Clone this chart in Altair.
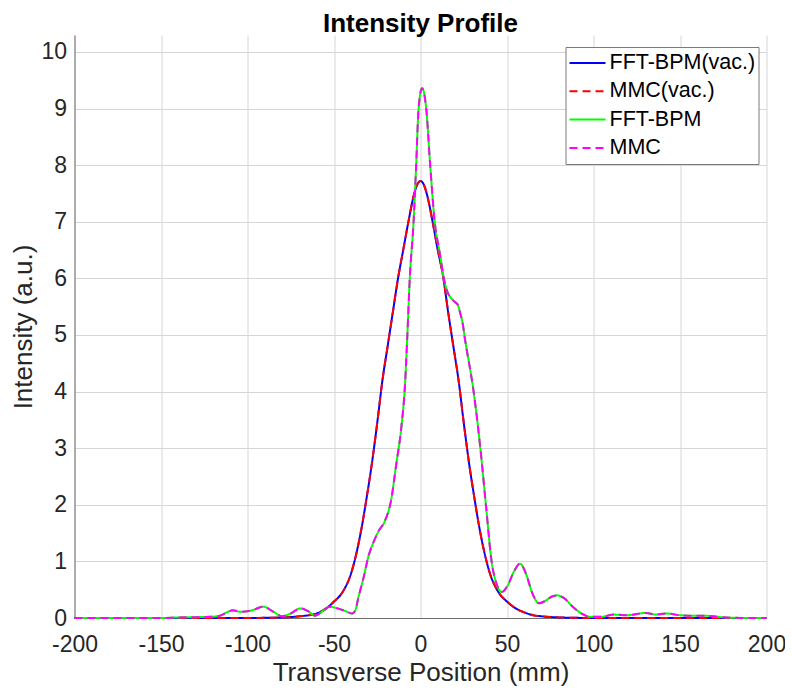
import altair as alt
import pandas as pd

# ---- data ----
series_names = ["FFT-BPM(vac.)", "MMC(vac.)", "FFT-BPM", "MMC"]
series_colors = ["#0000FF", "#FF0000", "#00FF00", "#FF00FF"]

vac_x = [-200, -120, -100, -90, -80, -70, -60, -55, -50, -45, -40, -37, -34, -31, -28,
         -25, -22, -19, -16, -13, -10, -7, -4, -2, 0, 2, 4, 7, 10, 13, 16, 19, 22, 25,
         28, 31, 34, 37, 40, 45, 50, 55, 60, 65, 70, 80, 90, 100, 120, 200]
vac_y = [0, 0, 0, 0.003, 0.01, 0.03, 0.08, 0.16, 0.29, 0.46, 0.8, 1.15, 1.6, 2.15, 2.75,
         3.45, 4.2, 4.8, 5.4, 6.0, 6.5, 7.0, 7.45, 7.65, 7.72, 7.65, 7.45, 7.0, 6.5, 6.05,
         5.4, 4.8, 4.2, 3.45, 2.75, 2.15, 1.6, 1.15, 0.8, 0.46, 0.29, 0.17, 0.1, 0.05,
         0.03, 0.01, 0.003, 0, 0, 0]

med_x = [-200, -150, -140, -130, -122, -116, -112, -108.5, -104, -97, -91, -85, -80, -75,
         -69.5, -65, -61, -56.5, -52.5, -48, -44, -39.5, -37.5, -36, -33, -30, -27, -24.5,
         -20.5, -17, -14, -11, -9, -7.6, -6.2, -4, -2.5, -1.1, 0.9, 3.3, 5.6, 8.2, 11, 13.5,
         15.6, 18, 20, 21.6, 23, 24.4, 25.6, 30.7, 34.6, 37.8, 41.1, 44, 47, 50.5, 54, 57.6,
         61, 64.5, 68.5, 72, 76, 79, 83, 88, 93, 98, 104, 112, 120, 125, 130, 136, 142, 150,
         157, 165, 172, 180, 190, 200]
med_y = [0, 0, 0.01, 0.015, 0.02, 0.04, 0.1, 0.135, 0.11, 0.14, 0.2, 0.11, 0.03, 0.08,
         0.17, 0.12, 0.04, 0.12, 0.2, 0.17, 0.13, 0.08, 0.15, 0.35, 0.7, 1.1, 1.35, 1.52,
         1.72, 2.08, 2.72, 3.39, 4.1, 5.0, 6.0, 7.0, 8.0, 9.0, 9.36, 9.0, 8.0, 7.0, 6.47, 6.0,
         5.76, 5.64, 5.58, 5.53, 5.38, 5.2, 4.95, 4.0, 3.0, 2.0, 1.0, 0.6, 0.46, 0.58, 0.82,
         0.96, 0.78, 0.45, 0.26, 0.3, 0.38, 0.4, 0.35, 0.2, 0.08, 0.02, 0.02, 0.06, 0.05, 0.07,
         0.09, 0.06, 0.08, 0.05, 0.04, 0.04, 0.02, 0.005, 0, 0]

x_ticks = [-200, -150, -100, -50, 0, 50, 100, 150, 200]
y_ticks = [0, 1, 2, 3, 4, 5, 6, 7, 8, 9, 10]

rows = []
for name, xs, ys in [(series_names[0], vac_x, vac_y), (series_names[1], vac_x, vac_y),
                     (series_names[2], med_x, med_y), (series_names[3], med_x, med_y)]:
    for xv, yv in zip(xs, ys):
        rows.append({"series": name, "x": xv, "y": yv})
df = pd.DataFrame(rows)

FONT = "Liberation Sans"
TXT = "#262626"
HYPHEN_EXPR = "replace(datum.label, '\u2212', '-')"

x_enc = alt.X("x:Q", scale=alt.Scale(domain=[-200, 200], nice=False),
              axis=alt.Axis(values=x_ticks, title="Transverse Position (mm)",
                            labelExpr=HYPHEN_EXPR,
                            labelFontSize=23, titleFontSize=26, labelPadding=15,
                            titlePadding=3, ticks=False, labelFlush=False,
                            labelColor=TXT, titleColor=TXT, titleFontWeight="normal",
                            domainColor="#6e6e6e", gridColor="#d6d6d6",
                            labelFont=FONT, titleFont=FONT))
y_enc = alt.Y("y:Q", scale=alt.Scale(domain=[0, 10.3], nice=False),
              axis=alt.Axis(values=y_ticks, title="Intensity (a.u.)",
                            labelFontSize=23, titleFontSize=26, labelPadding=8,
                            titlePadding=4, ticks=False, labelFlush=False,
                            labelColor=TXT, titleColor=TXT, titleFontWeight="normal",
                            domainColor="#6e6e6e", gridColor="#d6d6d6",
                            labelFont=FONT, titleFont=FONT))

color_enc = alt.Color("series:N",
                      scale=alt.Scale(domain=series_names, range=series_colors),
                      legend=alt.Legend(orient="none", legendX=491, legendY=12, title=None,
                                        fillColor="white", strokeColor="#7a7a7a",
                                        padding=3, labelFontSize=21.5, labelFont=FONT,
                                        labelColor="black", symbolType="stroke",
                                        symbolSize=1296, symbolStrokeWidth=2,
                                        clipHeight=26, rowPadding=2.3, labelOffset=3,
                                        labelLimit=400))
dash_enc = alt.StrokeDash("series:N",
                          scale=alt.Scale(domain=series_names,
                                          range=[[1, 0], [8, 5], [1, 0], [8, 5]]),
                          legend=alt.Legend(orient="none", legendX=491, legendY=12, title=None))

base = alt.Chart(df).mark_line(strokeWidth=2, interpolate="monotone").encode(
    x=x_enc, y=y_enc, color=color_enc, strokeDash=dash_enc
)

layers = [base.transform_filter(alt.datum.series == s) for s in series_names]

chart = alt.layer(*layers).properties(
    width=692, height=583,
    autosize=alt.AutoSizeParams(type="none"),
    padding={"left": 66.5, "top": 27, "right": 18.5, "bottom": 70},
    title=alt.Title("Intensity Profile", fontSize=26, fontWeight="bold", font=FONT,
                    color="black", anchor="middle", offset=2, dy=4),
).configure_view(strokeWidth=0)

chart.save("out.html", embed_options={"renderer": "svg", "actions": False})
